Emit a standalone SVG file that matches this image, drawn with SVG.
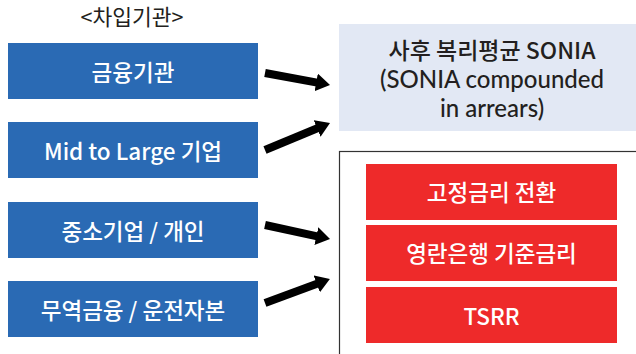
<svg xmlns="http://www.w3.org/2000/svg" width="636" height="354" viewBox="0 0 636 354">
<defs>
<style>
.t{font-family:"Noto Sans CJK KR","Noto Sans",sans-serif;text-anchor:middle;font-weight:500}
.w{fill:#ffffff;font-size:22.5px}
.blue{fill:#2A6AB4}
.red{fill:#EE2A2A}
.dk{fill:#231F20;font-size:23px}
.lt{font-family:Lato,"Noto Sans CJK KR",sans-serif;font-size:24px}
.arr{stroke:#000;stroke-width:8;fill:none;marker-end:url(#ah)}
</style>
<marker id="ah" markerUnits="userSpaceOnUse" markerWidth="14" markerHeight="18" refX="1" refY="9" orient="auto" viewBox="0 0 14 18">
<path d="M0,0 L14,9 L0,18 z" fill="#000"/>
</marker>
</defs>
<rect width="636" height="354" fill="#fff"/>
<text class="t" x="132" y="24.5" style="font-size:21.5px;fill:#231F20;font-weight:400">&lt;차입기관&gt;</text>
<g id="src1"><rect class="blue" x="8" y="43" width="250" height="56"/><text class="t w" x="133" y="81">금융기관</text></g>
<g id="src2"><rect class="blue" x="8" y="122" width="250" height="56"/><text class="t w" x="133" y="160">Mid to Large 기업</text></g>
<g id="src3"><rect class="blue" x="8" y="202" width="250" height="56"/><text class="t w" x="133" y="240">중소기업 / 개인</text></g>
<g id="src4"><rect class="blue" x="8" y="281" width="250" height="56"/><text class="t w" x="133" y="319">무역금융 / 운전자본</text></g>
<g id="sonia"><rect x="339" y="24" width="297" height="107" fill="#E2E8F4"/>
<text class="t dk" x="492" y="59">사후 복리평균 SONIA</text>
<text class="t dk lt" x="492" y="88">(SONIA compounded</text>
<text class="t dk lt" x="492" y="116.5">in arrears)</text></g>
<g id="alt"><rect x="339.5" y="151.5" width="310" height="220" fill="none" stroke="#333" stroke-width="1.2"/>
<g id="alt1"><rect class="red" x="366" y="164" width="251" height="56"/><text class="t w" x="491.5" y="201">고정금리 전환</text></g>
<g id="alt2"><rect class="red" x="366" y="225" width="251" height="56"/><text class="t w" x="491.5" y="262">영란은행 기준금리</text></g>
<g id="alt3"><rect class="red" x="366" y="287" width="251" height="56"/><text class="t w" x="491.5" y="325">TSRR</text></g>
</g>
<g id="connectors">
<line class="arr" x1="265" y1="73" x2="317.2" y2="82.6"/>
<line class="arr" x1="265" y1="150" x2="318" y2="128"/>
<line class="arr" x1="265" y1="225" x2="317.3" y2="236.3"/>
<line class="arr" x1="265" y1="303" x2="317.7" y2="283.5"/>
</g>
</svg>
